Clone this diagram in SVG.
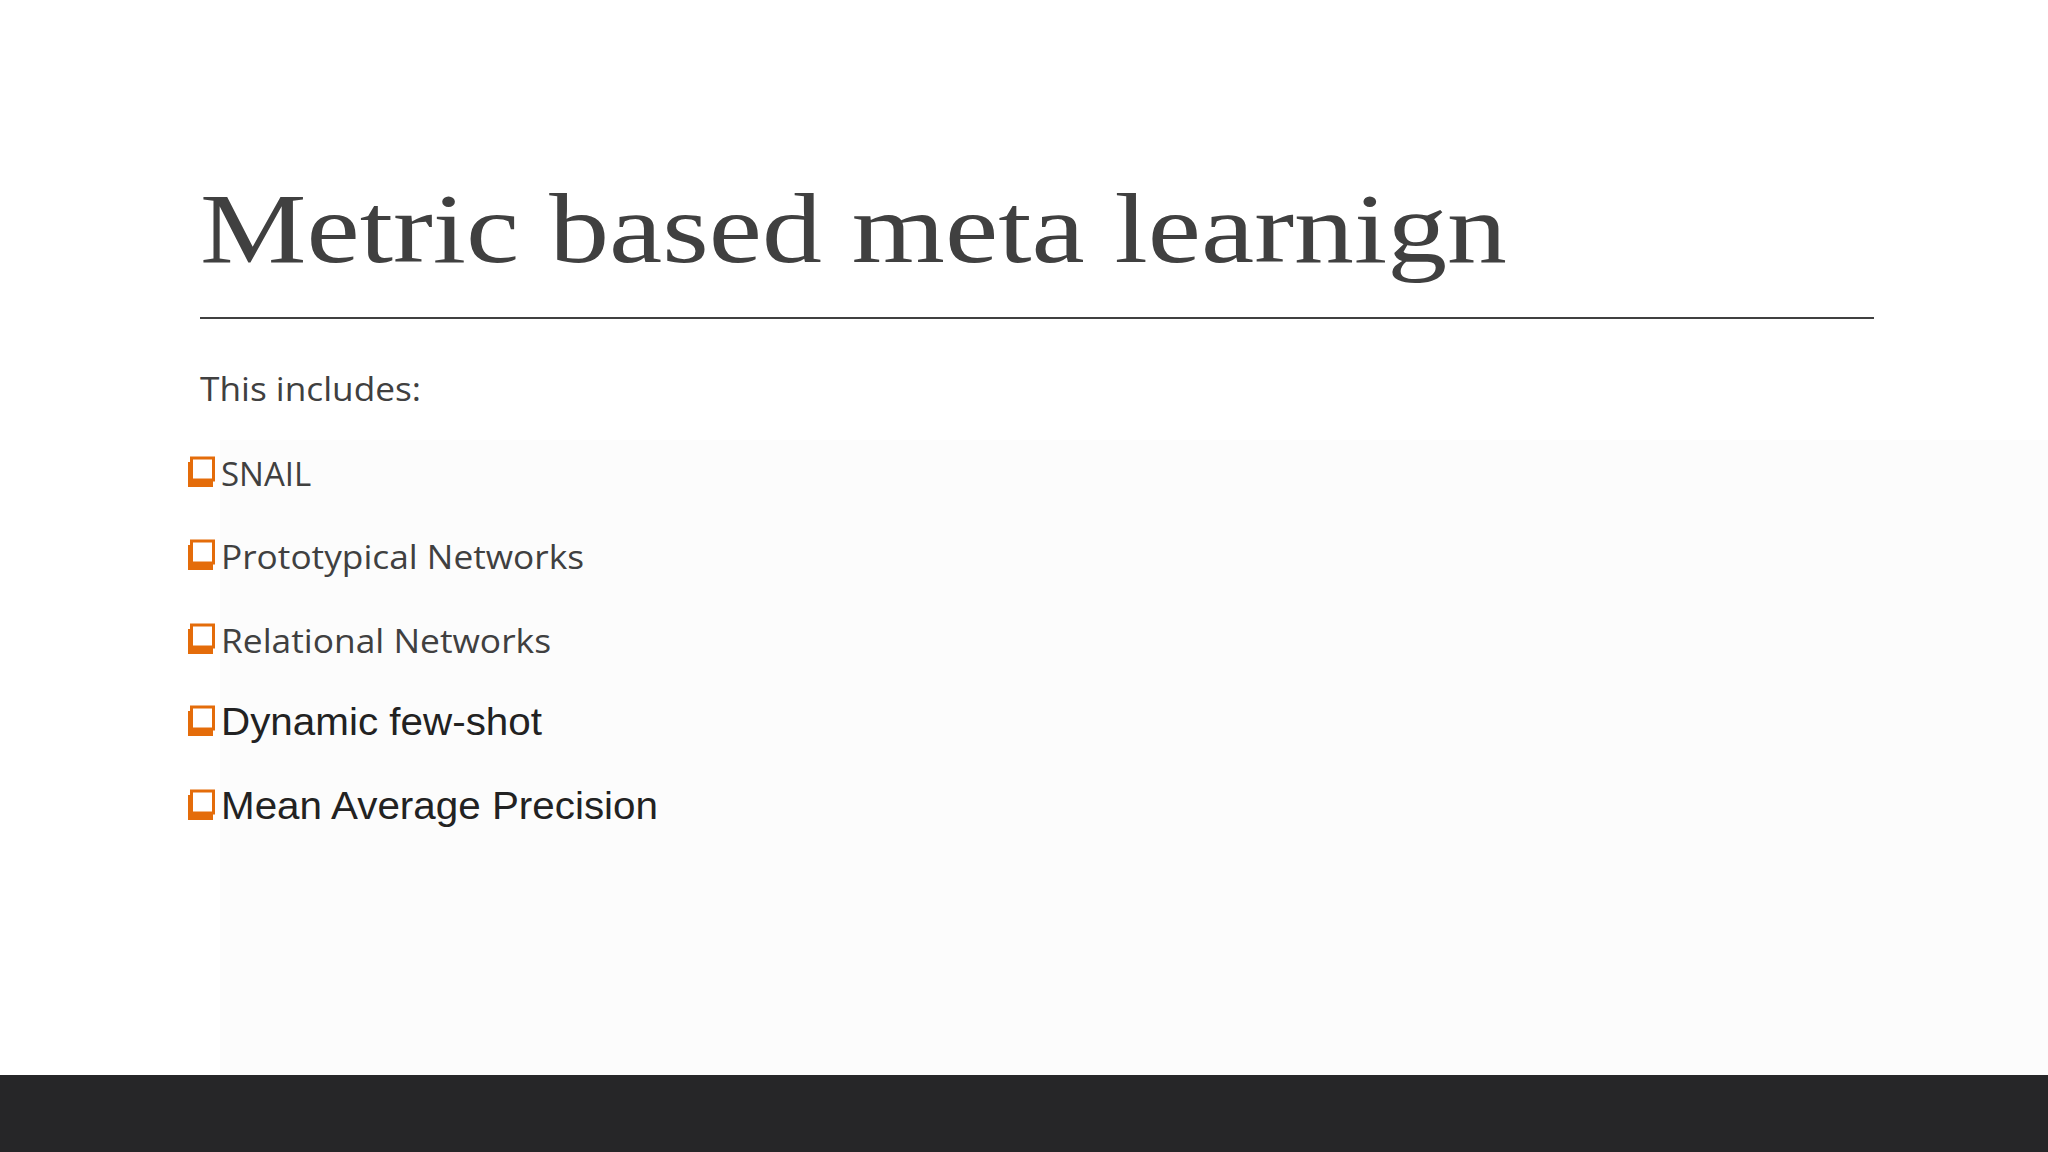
<svg xmlns="http://www.w3.org/2000/svg" width="2048" height="1152" viewBox="0 0 2048 1152">
<defs>
<style>
.t{font-family:"Open Sans","Noto Sans",sans-serif;font-size:33px;fill:#404040}
.a{font-family:"Liberation Sans",Arial,sans-serif;font-size:38px;fill:#222}
</style>
<g id="box"><rect x="0" y="0" width="25" height="25" fill="#e46c0a"/><rect x="3.5" y="-4" width="22" height="22" fill="#fff" stroke="#e46c0a" stroke-width="3"/></g>
</defs>
<rect width="2048" height="1152" fill="#fff"/>
<rect x="220" y="440" width="1828" height="635" fill="#fcfcfc"/>
<text x="200" y="262" font-family="Liberation Serif,serif" font-size="100" fill="#404040" textLength="1307" lengthAdjust="spacingAndGlyphs">Metric based meta learnign</text>
<line x1="200" y1="318" x2="1874" y2="318" stroke="#404040" stroke-width="2"/>
<text class="t" x="200" y="401" textLength="221" lengthAdjust="spacingAndGlyphs">This includes:</text>
<g id="b1"><use href="#box" x="188" y="462"/><text class="t" x="221" y="486">SNAIL</text></g>
<g id="b2"><use href="#box" x="188" y="545"/><text class="t" x="221" y="569" textLength="363" lengthAdjust="spacingAndGlyphs">Prototypical Networks</text></g>
<g id="b3"><use href="#box" x="188" y="629"/><text class="t" x="221" y="653" textLength="330" lengthAdjust="spacingAndGlyphs">Relational Networks</text></g>
<g id="b4"><use href="#box" x="188" y="711"/><text class="a" x="221" y="735" textLength="321" lengthAdjust="spacingAndGlyphs">Dynamic few-shot</text></g>
<g id="b5"><use href="#box" x="188" y="795"/><text class="a" x="221" y="819" textLength="437" lengthAdjust="spacingAndGlyphs">Mean Average Precision</text></g>
<rect x="0" y="1075" width="2048" height="77" fill="#262628"/>
</svg>
